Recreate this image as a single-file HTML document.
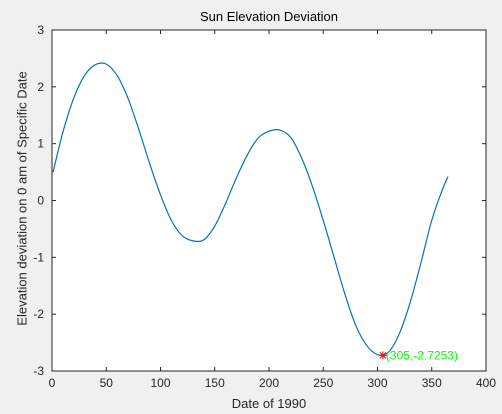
<!DOCTYPE html>
<html><head><meta charset="utf-8"><style>
html,body{margin:0;padding:0;background:#f0f0f0;}
svg{display:block;font-family:"Liberation Sans",Arial,sans-serif;}
</style></head><body>
<svg id="c" width="502" height="414"></svg>
<script>
const days=[1,10,20,30,40,50,60,70,80,90,100,110,120,130,140,150,160,170,180,190,200,210,220,230,240,250,260,270,280,290,300,310,320,330,340,350,360,365];
const values=[0.5,1.2,1.8,2.2,2.39,2.40,2.2,1.8,1.25,0.65,0.1,-0.35,-0.62,-0.71,-0.69,-0.45,-0.05,0.4,0.8,1.1,1.22,1.24,1.11,0.75,0.25,-0.35,-1.0,-1.65,-2.2,-2.55,-2.71,-2.67,-2.35,-1.8,-1.1,-0.35,0.2,0.42];
const xTicks=[0,50,100,150,200,250,300,350,400];
const yTicks=[-3,-2,-1,0,1,2,3];
const markerDay=305, markerVal=-2.7253, markerLabel="(305,-2.7253)";
const L=52,R=486,T=30,B=371;
const xs=v=>L+(v-0)/400*(R-L);
const ys=v=>B-(v+3)/6*(B-T);
const svg=document.getElementById('c');
const NS='http://www.w3.org/2000/svg';
function mk(t,a,p){const e=document.createElementNS(NS,t);for(const k in a)e.setAttribute(k,a[k]);(p||svg).appendChild(e);return e;}
const bg=mk('rect',{x:L,y:T,width:R-L,height:B-T,fill:'#fff',stroke:'#262626','stroke-width':1});


xTicks.forEach(t=>{const x=xs(t);
 mk('line',{x1:x,x2:x,y1:B,y2:B-4,stroke:'#262626'});
 mk('line',{x1:x,x2:x,y1:T,y2:T+4,stroke:'#262626'});
 const tx=mk('text',{x:x,y:B+16,'font-size':12,'text-anchor':'middle',fill:'#262626'});tx.textContent=t;
 
 
});
yTicks.forEach(t=>{const y=ys(t);
 mk('line',{x1:L,x2:L+4,y1:y,y2:y,stroke:'#262626'});
 mk('line',{x1:R,x2:R-4,y1:y,y2:y,stroke:'#262626'});
 const tx=mk('text',{x:L-8,y:y+4,'font-size':12,'text-anchor':'end',fill:'#262626'});tx.textContent=t;
 
 
});
const pts=days.map((d,i)=>[xs(d),ys(values[i])]);
let dstr='M'+pts[0][0]+','+pts[0][1];
for(let i=0;i<pts.length-1;i++){const p0=pts[Math.max(0,i-1)],p1=pts[i],p2=pts[i+1],p3=pts[Math.min(pts.length-1,i+2)];
 const c1=[p1[0]+(p2[0]-p0[0])/6,p1[1]+(p2[1]-p0[1])/6],c2=[p2[0]-(p3[0]-p1[0])/6,p2[1]-(p3[1]-p1[1])/6];
 dstr+=' C'+c1+' '+c2+' '+p2;}
const line=mk('path',{d:dstr,fill:'none',stroke:'#0072BD','stroke-width':1.2});


const mx=xs(markerDay),my=ys(markerVal);
const mg=mk('g',{stroke:'#ff0000','stroke-width':1});


mk('line',{x1:mx-4,x2:mx+4,y1:my,y2:my},mg);mk('line',{x1:mx,x2:mx,y1:my-4,y2:my+4},mg);
mk('line',{x1:mx-3,x2:mx+3,y1:my-3,y2:my+3},mg);mk('line',{x1:mx-3,x2:mx+3,y1:my+3,y2:my-3},mg);
const ml=mk('text',{x:mx+3,y:my+4,'font-size':12,fill:'#00ff00'});ml.textContent=markerLabel;


</script>
<div style="position:absolute;left:0;top:0;width:502px;height:414px;pointer-events:none">
<div style="position:absolute;left:52px;width:434px;top:9px;text-align:center;font:13px 'Liberation Sans',sans-serif;color:#000">Sun Elevation Deviation</div>
<div style="position:absolute;left:52px;width:434px;top:396px;text-align:center;font:13px 'Liberation Sans',sans-serif;color:#262626">Date of 1990</div>
<div style="position:absolute;left:22px;top:200px;width:0;height:0"><div style="position:absolute;left:-150px;top:-9px;width:300px;text-align:center;transform:rotate(-90deg);font:13px 'Liberation Sans',sans-serif;color:#262626;white-space:nowrap">Elevation deviation on 0 am of Specific Date</div></div>
</div>
</body></html>
